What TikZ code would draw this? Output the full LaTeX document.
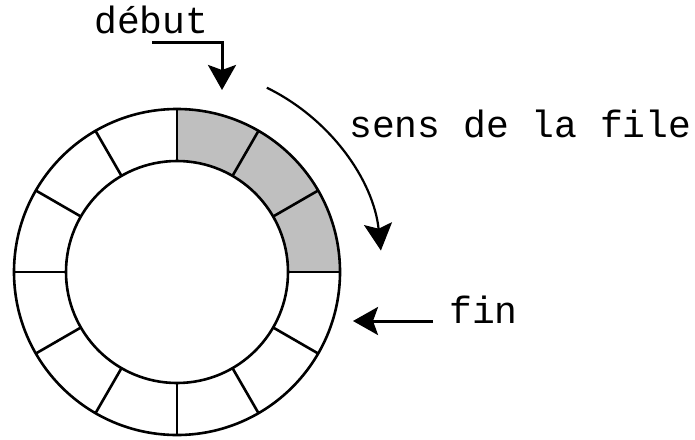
\documentclass[tikz,border=0pt]{standalone}
\usepackage{fontspec}
\setmonofont{Liberation Mono}
\usetikzlibrary{arrows.meta}
\tikzset{
  lbl/.style={font=\ttfamily\fontsize{38}{41}\selectfont, inner sep=0pt, anchor=base west},
  ring/.style={line width=2.6pt},
  bigarrow/.style={line width=3pt, -{Stealth[length=25pt,width=28pt,inset=5pt]}},
  arcarrow/.style={line width=2.2pt, -{Stealth[length=27pt,width=28pt,inset=5pt]}},
}
\begin{document}
\begin{tikzpicture}[x=1pt,y=1pt]
\useasboundingbox (0,0) rectangle (695,-439);
\coordinate (C) at (177,-272);
% grey sectors
\fill[gray!50] ([shift={(0:163)}]C) arc[start angle=0,end angle=90,radius=163]
  -- ([shift={(90:111)}]C) arc[start angle=90,end angle=0,radius=111] -- cycle;
% ring
\draw[ring] (C) circle[radius=163];
\draw[ring] (C) circle[radius=111];
\foreach \a in {0,30,...,330}
  \draw[ring] ([shift={(\a:111)}]C) -- ([shift={(\a:163)}]C);
% labels
\node[lbl] (debut) at (94,-33) {début};
\node[lbl] (sens) at (349,-137) {sens de la file};
\node[lbl] (fin) at (449,-323) {fin};
% début arrow
\coordinate (d0) at (152,-42);
\coordinate (d1) at (222,-42);
\coordinate (d2) at (222,-90);
\draw[bigarrow] (d0) -- (d1) -- (d2);
% direction arc
\coordinate (a0) at ([shift={(64:205)}]C);
\draw[arcarrow] (a0) arc[start angle=64,end angle=6,radius=205];
% fin arrow
\coordinate (f0) at (433,-321);
\coordinate (f1) at (353,-321);
\draw[bigarrow] (f0) -- (f1);
\end{tikzpicture}
\end{document}
